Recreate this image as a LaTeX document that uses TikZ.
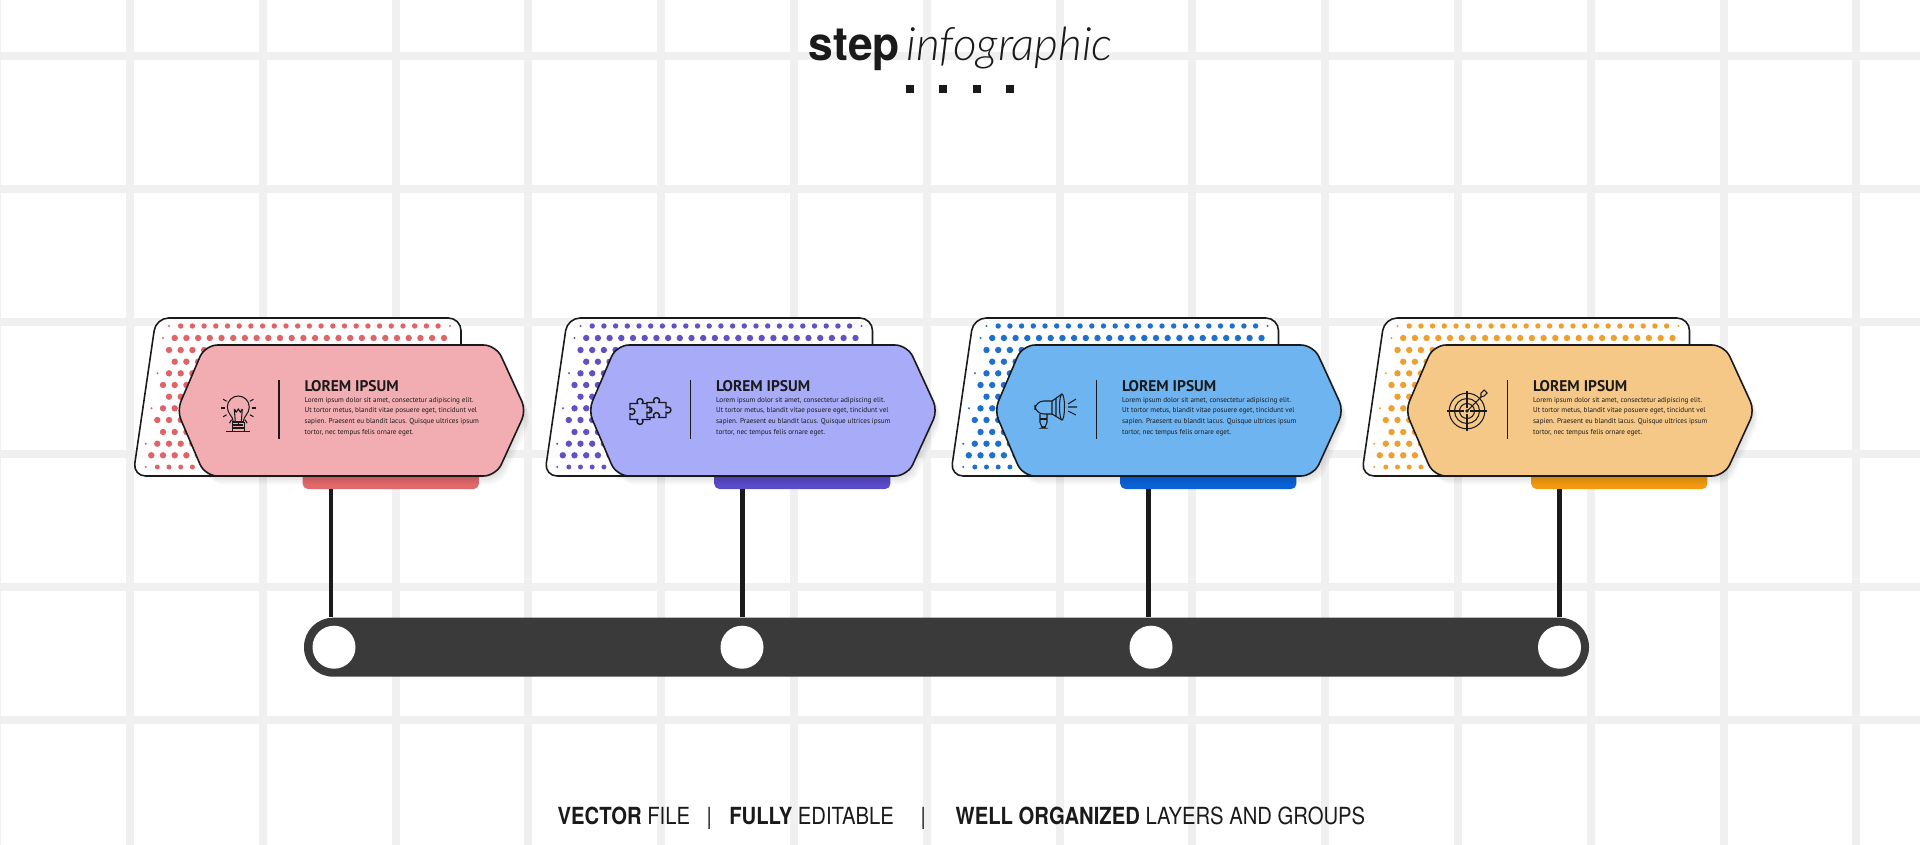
\documentclass[tikz,border=0pt]{standalone}
\usepackage{fontspec}
\setmainfont{TeX Gyre Heros}
\newfontfamily\cardfont{PT Sans}
\newfontfamily\footfont[FakeStretch=0.86]{TeX Gyre Heros}
\newfontfamily\stepfont[FakeStretch=0.95]{TeX Gyre Heros Bold}
\newfontfamily\thinfont{Lato Light Italic}
\definecolor{griline}{HTML}{F0F0F0}
\definecolor{inkdark}{HTML}{1A1A1A}
\definecolor{barcol}{HTML}{3A3A3A}
\definecolor{cardA}{HTML}{F1ADB2}
\definecolor{dotA}{HTML}{DF6468}
\definecolor{tabA}{HTML}{E2696B}
\definecolor{cardB}{HTML}{A7ABF8}
\definecolor{dotB}{HTML}{6251C4}
\definecolor{tabB}{HTML}{5A4BC8}
\definecolor{cardC}{HTML}{6EB4F0}
\definecolor{dotC}{HTML}{1F6FCE}
\definecolor{tabC}{HTML}{0B62D6}
\definecolor{cardD}{HTML}{F5C888}
\definecolor{dotD}{HTML}{EF9F2E}
\definecolor{tabD}{HTML}{F29A12}
\newcommand{\hexpath}{(300,345) [rounded corners=3.6pt] -- (205,345) [rounded corners=2.8pt] -- (177,410.5) [rounded corners=3.6pt] -- (205,476) -- (496,476) [rounded corners=2.8pt] -- (526,410.5) [rounded corners=3.6pt] -- (496,345) -- cycle}
\tikzset{
  gridline/.style={griline, line width=2.27pt},
  outline/.style={inkdark, line width=0.45pt},
  icon/.style={inkdark, line width=0.3pt},
  stemline/.style={inkdark, line width=1.4pt},
  headtext/.style={anchor=base west, inner sep=0pt, text=inkdark, font=\cardfont\bfseries\fontsize{4.4}{5}\selectfont},
  bodytext/.style={anchor=north west, inner sep=0pt, align=left, text=inkdark, font=\cardfont\fontsize{2.03}{3.02}\selectfont},
  foottext/.style={anchor=base west, inner sep=0pt, text=inkdark, font=\footfont\fontsize{6.7}{8}\selectfont},
  hole/.style={circle, fill=white, inner sep=0pt, minimum size=0.43cm},
  square/.style={fill=inkdark, inner sep=0pt, minimum size=0.08cm}
}
\begin{document}
\begin{tikzpicture}[x=0.1mm,y=-0.1mm]
\useasboundingbox (0,0) rectangle (1920,845);
\fill[white] (0,0) rectangle (1920,845);
% background grid
\foreach \k in {-1,...,13} \draw[gridline] (130+132.8*\k,0) -- (130+132.8*\k,845);
\foreach \k in {0,...,5} \draw[gridline] (0,56+132.8*\k) -- (1920,56+132.8*\k);
% title
\node[anchor=base west, inner sep=0pt, text=inkdark, font=\stepfont\fontsize{13.3}{16}\selectfont] (titleA) at (808,60.7) {step};
\node[anchor=base west, inner sep=0pt, text=inkdark, font=\thinfont\fontsize{13.1}{16}\selectfont] (titleB) at (906,60.7) {infographic};
\node[square] (sqA) at (910,88.7) {};
\node[square] (sqB) at (943,88.7) {};
\node[square] (sqC) at (976.7,88.7) {};
\node[square] (sqD) at (1009.5,88.7) {};
% cards
\foreach \i/\dx/\cardc/\dotc/\tabc in {1/0/cardA/dotA/tabA,2/411.5/cardB/dotB/tabB,3/817.5/cardC/dotC/tabC,4/1228.5/cardD/dotD/tabD} {
\begin{scope}[shift={(\dx,0)}]
\fill[white, opacity=0.75] [rounded corners=3.6pt] (300,476) -- (133,476) -- (156,318) -- (461,318) -- (461,476) -- cycle;
\draw[outline] [rounded corners=3.6pt] (300,476) -- (133,476) -- (156,318) -- (461,318) -- (461,476) -- cycle;
\foreach \ya/\xa/\rad in {326/180.7/2.7,338/174.7/3.2,350/169/3.2,361.7/174.7/3.2,373.3/169/3.2,385/163/3.2,396.7/169/3.2,408.3/163/3.2,420/157.3/3.2,432/163/3.2,443.7/157.3/3.2,455.3/151.3/3.2,467/157.3/2.5}
  \foreach \xb in {0,...,22} \fill[\dotc] (\xa+11.7*\xb,\ya) circle[radius=\rad];
\fill[\dotc] (444,338) circle[radius=3.2];
\foreach \xa/\ya in {169/326,450/326,163/338,157.5/373.3,151.5/408.3,145.7/443.7,145.7/467}
  \fill[\dotc] (\xa,\ya) circle[radius=1.1];
\node[fill=\tabc, rounded corners=1.5pt, inner sep=0pt, minimum width=1.763cm, minimum height=0.3cm] (tab\i) at (390.8,474) {};
\foreach \s in {2,4,6,8} \fill[black, opacity=0.03] [shift={(0.7*\s,\s)}] \hexpath;
\fill[\cardc] \hexpath;
\draw[outline] \hexpath;
\draw[inkdark, line width=0.3pt] (279,380) -- (279,439);
\node[headtext] (head\i) at (304,391) {LOREM IPSUM};
\node[bodytext] (body\i) at (304,396.5) {Lorem ipsum dolor sit amet, consectetur adipiscing elit.\\Ut tortor metus, blandit vitae posuere eget, tincidunt vel\\sapien. Praesent eu blandit lacus. Quisque ultrices ipsum\\tortor, nec tempus felis ornare eget.};
\coordinate (stem\i) at (331,489);
\end{scope}
}
% timeline bar
\node[fill=barcol, rounded corners=8.3pt, inner sep=0pt, minimum width=12.85cm, minimum height=0.59cm] (bar) at (946.5,647.2) {};
\node[hole] (holeA) at (334,647.2) {};
\node[hole] (holeB) at (742,647.2) {};
\node[hole] (holeC) at (1151,647.2) {};
\node[hole] (holeD) at (1559.5,647.2) {};
\foreach \i in {1,2,3,4} \draw[stemline] (stem\i) -- (stem\i |- bar.north);
% bulb icon
\begin{scope}[shift={(238.3,408)}]
\foreach \a in {90,60,30,0,-30,120,150,180,210} \draw[icon] (\a:13.5) -- (\a:17.5);
\draw[icon] (-5,14) .. controls (-5,8) and (-11,6) .. (-11,-1) .. controls (-11,-7) and (-6,-12) .. (0,-12) .. controls (6,-12) and (11,-7) .. (11,-1) .. controls (11,6) and (5,8) .. (5,14);
\draw[icon] (-4,1) -- (-3,14) (4,1) -- (3,14) (-4,1) -- (-2,4) -- (0,1) -- (2,4) -- (4,1);
\draw[icon] (-6,14) -- (6,14) (-5,17) -- (5,17) (-6,14) -- (-6,23) (6,14) -- (6,23) (-6,20) -- (6,20) (-12,23.7) -- (12,23.7);
\end{scope}
% puzzle icon
\begin{scope}[shift={(649,411)}]
\draw[icon, line width=0.4pt] (-19,-7.5) -- (-11.3,-7.5) arc[start angle=140,end angle=400,radius=3] -- (1,-7.5) -- (1,8.5) -- (-6.7,8.5) arc[start angle=-40,end angle=220,radius=3] -- (-19,8.5) -- (-19,2.8) arc[start angle=130,end angle=-130,radius=3] -- cycle;
\draw[icon, line width=0.4pt, fill=cardB] (-2,-8.5) -- (5.2,-8.5) arc[start angle=140,end angle=400,radius=3] -- (17,-8.5) -- (17,-3.3) arc[start angle=230,end angle=490,radius=3] -- (17,6.5) -- (9.8,6.5) arc[start angle=40,end angle=-220,radius=3] -- (-2,6.5) -- (-2,1.3) arc[start angle=130,end angle=-130,radius=3] -- cycle;
\end{scope}
% megaphone icon
\begin{scope}[shift={(1055,411)}]
\draw[icon] [rounded corners=2.5pt] (-3,-10) -- (-20,-10) -- (-20,3) -- (-3,3);
\draw[icon] (-3,-10) -- (-3,3) (1,-12.5) -- (1,5.5) (-3,-10) -- (7,-17) (-3,3) -- (7,9);
\draw[icon, fill=cardC] (7,-4) ellipse[x radius=2.5, y radius=13];
\draw[icon] [rounded corners=1.6pt] (-15,3) -- (-15,17) -- (-8,17) -- (-8,3);
\draw[icon] (-15,8) -- (-8,8);
\draw[icon] (13,-7) -- (21,-12) (13,-4) -- (22,-4) (13,0) -- (21,4);
\end{scope}
% target icon
\begin{scope}[shift={(1467,411)}]
\draw[icon] (0,0) circle[radius=17.8] (0,0) circle[radius=12.5] (0,0) circle[radius=7.5];
\draw[icon] (-20,0) -- (-3,0) (3,0) -- (20,0) (0,-20) -- (0,-3) (0,3) -- (0,20);
\fill[inkdark] (0,0) circle[radius=1.8];
\draw[icon] (0,0) -- (14,-14);
\draw[icon] (14,-14) -- (14,-18) -- (17,-21) -- (20,-18) -- (17,-15) -- (14,-14);
\end{scope}
% footer
\node[foottext] (footA) at (557,824.5) {\textbf{VECTOR} FILE};
\node[foottext] (sepA) at (706,824.5) {|};
\node[foottext] (footB) at (728.6,824.5) {\textbf{FULLY} EDITABLE};
\node[foottext] (sepB) at (920,824.5) {|};
\node[foottext] (footC) at (955,824.5) {\textbf{WELL ORGANIZED} LAYERS AND GROUPS};
\end{tikzpicture}
\end{document}
